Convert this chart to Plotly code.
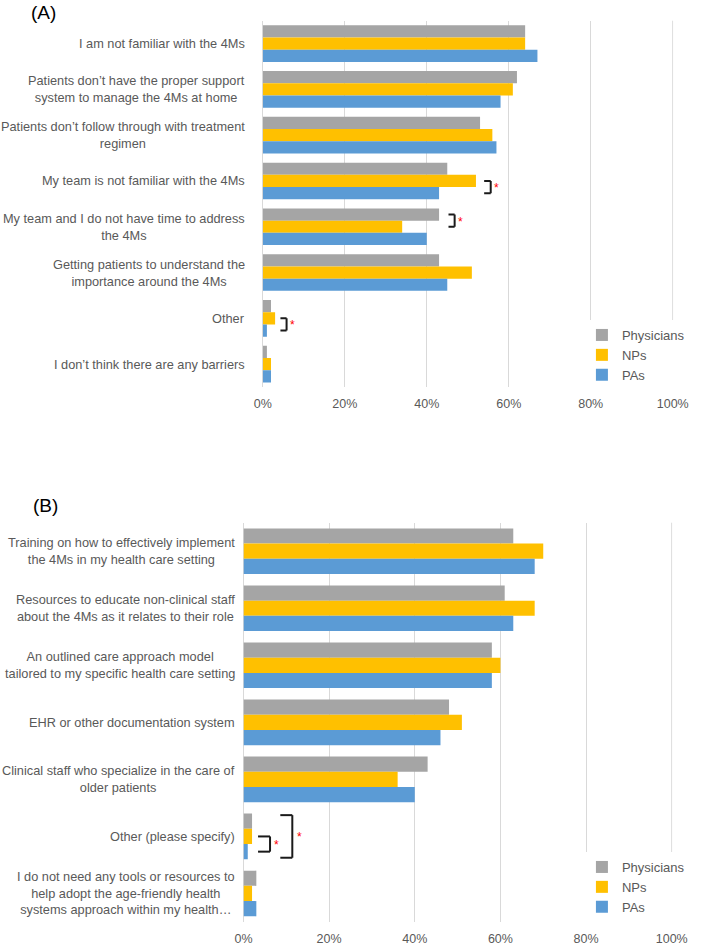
import plotly.graph_objects as go

# ---------------- data ----------------
series = ["Physicians", "NPs", "PAs"]
colors = ["#a5a5a5", "#ffc000", "#5b9bd5"]

labels_a = [
    "I am not familiar with the 4Ms",
    "Patients don’t have the proper support<br>system to manage the 4Ms at home",
    "Patients don’t follow through with treatment<br>regimen",
    "My team is not familiar with the 4Ms",
    "My team and I do not have time to address<br>the 4Ms",
    "Getting patients to understand the<br>importance around the 4Ms",
    "Other",
    "I don’t think there are any barriers",
]
physicians_a = [64, 62, 53, 45, 43, 43, 2, 1]
nps_a = [64, 61, 56, 52, 34, 51, 3, 2]
pas_a = [67, 58, 57, 43, 40, 45, 1, 2]

labels_b = [
    "Training on how to effectively implement<br>the 4Ms in my health care setting",
    "Resources to educate non-clinical staff<br>about the 4Ms as it relates to their role",
    "An outlined care approach model<br>tailored to my specific health care setting",
    "EHR or other documentation system",
    "Clinical staff who specialize in the care of<br>older patients",
    "Other (please specify)",
    "I do not need any tools or resources to<br>help adopt the age-friendly health<br>systems approach within my health…",
]
physicians_b = [63, 61, 58, 48, 43, 2, 3]
nps_b = [70, 68, 60, 51, 36, 2, 2]
pas_b = [68, 63, 58, 46, 40, 1, 3]

tick_vals = [0, 20, 40, 60, 80, 100]
tick_text = ["0%", "20%", "40%", "60%", "80%", "100%"]

# significance brackets: (category index, first series, second series, arm x, vertical x, star x, extend)
brackets_a = [(3, 1, 2, 54.0, 55.6, 57.0, 0.0),
              (4, 0, 1, 45.3, 46.8, 48.2, 0.0),
              (6, 1, 2, 4.3, 5.8, 7.2, 0.0)]
brackets_b = [(5, 1, 2, 3.4, 6.2, 7.7, 0.0),
              (5, 0, 2, 8.6, 11.4, 13.1, 0.4)]

# ---------------- figure ----------------
BARGAP = 0.2
TXT = "#595959"
FONT = "Liberation Sans, Arial, sans-serif"
GRID = "#d9d9d9"
LABEL_SIZE = 12.75

fig = go.Figure()

panels = [
    ("x", "y", "legend", labels_a, [physicians_a, nps_a, pas_a]),
    ("x2", "y2", "legend2", labels_b, [physicians_b, nps_b, pas_b]),
]
for xa, ya, lg, labs, vals in panels:
    cats = [l.replace("<br>", " ") for l in labs]
    for name, col, v in zip(series, colors, vals):
        fig.add_trace(go.Bar(
            y=cats, x=v, name=name, orientation="h",
            marker=dict(color=col, line=dict(width=0)),
            xaxis=xa, yaxis=ya, legend=lg, hoverinfo="x+y+name",
        ))

def bar_center(i, k):
    w = (1 - BARGAP) / 3
    return i - (1 - BARGAP) / 2 + (k + 0.5) * w

shapes = []
annotations = []

# outer (100%) gridline, which plotly omits at the plot edge
for xr, yr in (("x", "y domain"), ("x2", "y2 domain")):
    shapes.append(dict(type="line", xref=xr, yref=yr, x0=tick_vals[-1], x1=tick_vals[-1],
                       y0=0, y1=1, layer="below", line=dict(color=GRID, width=1)))

for xr, yr, brs in (("x", "y", brackets_a), ("x2", "y2", brackets_b)):
    for (i, k1, k2, xarm, xv, xs, ext) in brs:
        w = (1 - BARGAP) / 3
        y1 = bar_center(i, k1) - ext * w
        y2 = bar_center(i, k2) + ext * w
        ln = dict(color="#1a1a1a", width=2)
        shapes.append(dict(type="line", xref=xr, yref=yr, x0=xarm, x1=xv, y0=y1, y1=y1, line=ln))
        shapes.append(dict(type="line", xref=xr, yref=yr, x0=xv, x1=xv, y0=y1, y1=y2, line=ln))
        shapes.append(dict(type="line", xref=xr, yref=yr, x0=xarm, x1=xv, y0=y2, y1=y2, line=ln))
        annotations.append(dict(xref=xr, yref=yr, x=xs, y=(y1 + y2) / 2, text="*",
                                showarrow=False, xanchor="center", yanchor="middle",
                                font=dict(color="#ff0000", size=12, family=FONT), yshift=-1))

for xr, yr, labs, shift in (("x", "y", labels_a, -16), ("x2", "y2", labels_b, -6)):
    for i, lab in enumerate(labs):
        annotations.append(dict(xref=xr, yref=yr, x=0, y=i, text=lab, showarrow=False,
                                xanchor="right", yanchor="middle", align="center",
                                xshift=shift, font=dict(size=LABEL_SIZE, color=TXT, family=FONT)))

annotations.append(dict(xref="paper", yref="paper", x=21 / 709, y=1 - 12 / 946, text="(A)",
                        showarrow=False, xanchor="left", yanchor="middle",
                        font=dict(size=19, color="#000000", family=FONT)))
annotations.append(dict(xref="paper", yref="paper", x=23 / 709, y=1 - 505 / 946, text="(B)",
                        showarrow=False, xanchor="left", yanchor="middle",
                        font=dict(size=19, color="#000000", family=FONT)))

def xaxis(domain, anchor):
    return dict(domain=domain, anchor=anchor, range=[0, 100.15], tickvals=tick_vals, ticktext=tick_text,
                showgrid=True, gridcolor=GRID, gridwidth=1, zeroline=True, zerolinecolor=GRID,
                zerolinewidth=1, showline=False, ticks="outside", ticklen=5,
                tickcolor="rgba(0,0,0,0)", tickfont=dict(size=12.5, color=TXT, family=FONT),
                fixedrange=True)

def yaxis(domain, anchor, n):
    return dict(domain=domain, anchor=anchor, type="category", range=[n - 0.5, -0.5],
                showticklabels=False, showgrid=False, zeroline=False, showline=False,
                ticks="", fixedrange=True)

fig.update_layout(
    width=709, height=946, autosize=False,
    margin=dict(l=0, r=0, t=0, b=0),
    paper_bgcolor="white", plot_bgcolor="white",
    barmode="group", bargap=BARGAP, bargroupgap=0,
    font=dict(family=FONT, color=TXT),
    xaxis=xaxis([262.7 / 709, 687.6 / 709], "y"),
    yaxis=yaxis([1 - 387 / 946, 1 - 20.7 / 946], "x", len(labels_a)),
    xaxis2=xaxis([242.7 / 709, 686.6 / 709], "y2"),
    yaxis2=yaxis([1 - 922 / 946, 1 - 522.7 / 946], "x2", len(labels_b)),
    legend=dict(x=593 / 709, y=1 - 320 / 946, xanchor="left", yanchor="top",
                bgcolor="white", borderwidth=0, tracegroupgap=0,
                font=dict(size=13, color=TXT, family=FONT)),
    legend2=dict(x=593 / 709, y=1 - 852 / 946, xanchor="left", yanchor="top",
                 bgcolor="white", borderwidth=0, tracegroupgap=0,
                 font=dict(size=13, color=TXT, family=FONT)),
    shapes=shapes,
    annotations=annotations,
    showlegend=True,
)

fig.write_html("out.html", config={"displayModeBar": False},
               post_script="document.body.style.margin='0';")
